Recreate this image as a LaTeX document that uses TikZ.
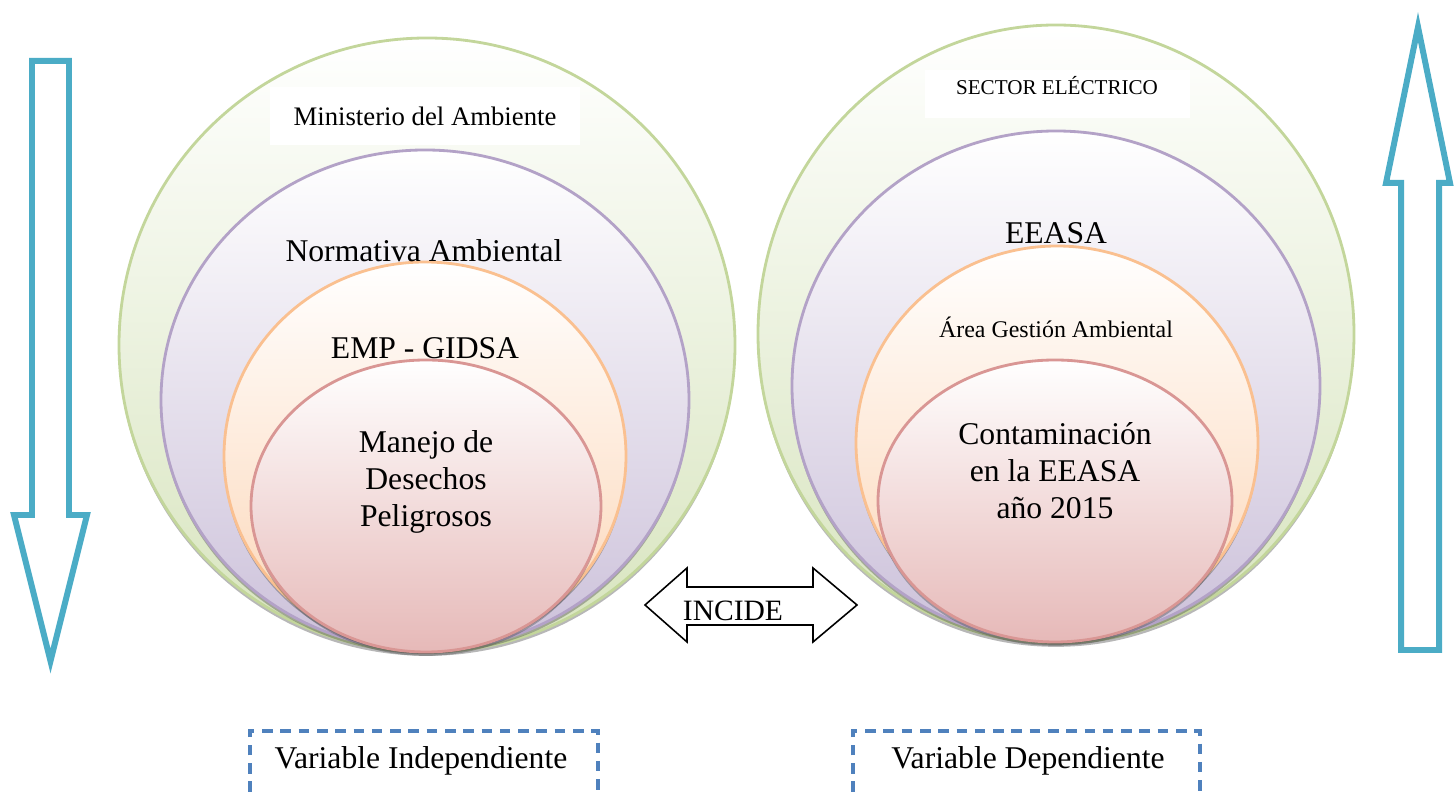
\documentclass[tikz,border=0pt]{standalone}
\usepackage{fontspec}
\setmainfont{Liberation Serif}
\usetikzlibrary{shadows}

\definecolor{greenline}{RGB}{195,214,155}
\definecolor{greenfill}{RGB}{215,228,189}
\definecolor{purpleline}{RGB}{179,162,199}
\definecolor{purplefill}{RGB}{204,193,218}
\definecolor{orangeline}{RGB}{250,192,144}
\definecolor{orangefill}{RGB}{252,213,181}
\definecolor{redline}{RGB}{217,150,148}
\definecolor{redfill}{RGB}{230,185,184}
\definecolor{aqua}{RGB}{75,172,198}
\definecolor{dashblue}{RGB}{79,129,189}

\tikzset{
	ring/.style 2 args={draw=#1, line width=0.8pt, top color=white, bottom color=#2,
		drop shadow={shadow xshift=0pt, shadow yshift=-1.1pt, opacity=0.4, fill=black!70}},
	blockarrow/.style={draw=aqua, line width=1.7pt, fill=white},
	incidearrow/.style={draw=black, line width=0.45pt, fill=white},
	varbox/.style={draw=dashblue, line width=0.9pt, dash pattern=on 3pt off 2.2pt},
	bigtext/.style={font=\fontsize{9}{10.5}\selectfont, align=center, inner sep=0pt},
}

\begin{document}
\begin{tikzpicture}[x=0.01cm, y=-0.01cm]

	\useasboundingbox (0,0) rectangle (1454,792);

	% ---- centres

	\coordinate (L1) at (427,345);
	\coordinate (L2) at (425,400);
	\coordinate (L3) at (425,456);
	\coordinate (L4) at (426,506);

	\coordinate (R1) at (1056,334);
	\coordinate (R2) at (1056,386);
	\coordinate (R3) at (1057,443);
	\coordinate (R4) at (1055,501);

	% ---- left rings

	\path[ring={greenline}{greenfill}] (L1) ellipse [x radius=308, y radius=307];
	\path[ring={purpleline}{purplefill}] (L2) ellipse [x radius=264, y radius=250];
	\path[ring={orangeline}{orangefill}] (L3) ellipse [x radius=201, y radius=194];
	\path[ring={redline}{redfill}] (L4) ellipse [x radius=175, y radius=146];

	% ---- right rings

	\path[ring={greenline}{greenfill}] (R1) ellipse [x radius=298, y radius=309];
	\path[ring={purpleline}{purplefill}] (R2) ellipse [x radius=264, y radius=255];
	\path[ring={orangeline}{orangefill}] (R3) ellipse [x radius=201, y radius=197];
	\path[ring={redline}{redfill}] (R4) ellipse [x radius=177, y radius=141];

	% ---- labels left

	\node[fill=white, minimum width=3.1cm, minimum height=0.57cm, inner sep=0pt,
		font=\fontsize{7.6}{9}\selectfont] (ministerio) at (425,116) {Ministerio del Ambiente};
	\node[bigtext] (normativa) at (424,251) {Normativa Ambiental};
	\node[bigtext] (emp) at (425,348) {EMP - GIDSA};
	\node[bigtext] (manejo) at (426,482) {Manejo de\\Desechos\\Peligrosos};

	% ---- labels right

	\fill[white] (925,70) rectangle (1190,118);
	\node[inner sep=0pt, font=\fontsize{6}{7}\selectfont] (sector) at (1057,86) {SECTOR ELÉCTRICO};
	\node[bigtext] (eeasa) at (1056,233) {EEASA};
	\node[inner sep=0pt, font=\fontsize{6.8}{8}\selectfont] (area) at (1056,327) {Área Gestión Ambiental};
	\node[bigtext] (contam) at (1055,471) {Contaminación\\en la EEASA\\año 2015};

	% ---- vertical arrows

	\draw[blockarrow] (32,61) -- (69,61) -- (69,515) -- (87,515) -- (50.5,661)
		-- (14,515) -- (32,515) -- cycle;
	\draw[blockarrow] (1401,650) -- (1439,650) -- (1439,183) -- (1450,183) -- (1418,27)
		-- (1386,183) -- (1401,183) -- cycle;

	% ---- incide

	\draw[incidearrow] (645,605) -- (687,568) -- (687,587) -- (813,587) -- (813,568)
		-- (857,605) -- (813,642) -- (813,625) -- (687,625) -- (687,642) -- cycle;
	\node[inner sep=0pt, font=\fontsize{8.4}{10}\selectfont] (incide) at (733,611) {INCIDE};

	% ---- variables

	\draw[varbox] (250,792) -- (250,731) -- (598,731) -- (598,792);
	\draw[varbox] (853,792) -- (853,731) -- (1200,731) -- (1200,792);
	\node[bigtext] (indep) at (421,761) {Variable Independiente};
	\node[bigtext] (dep) at (1028,761) {Variable Dependiente};

\end{tikzpicture}
\end{document}
